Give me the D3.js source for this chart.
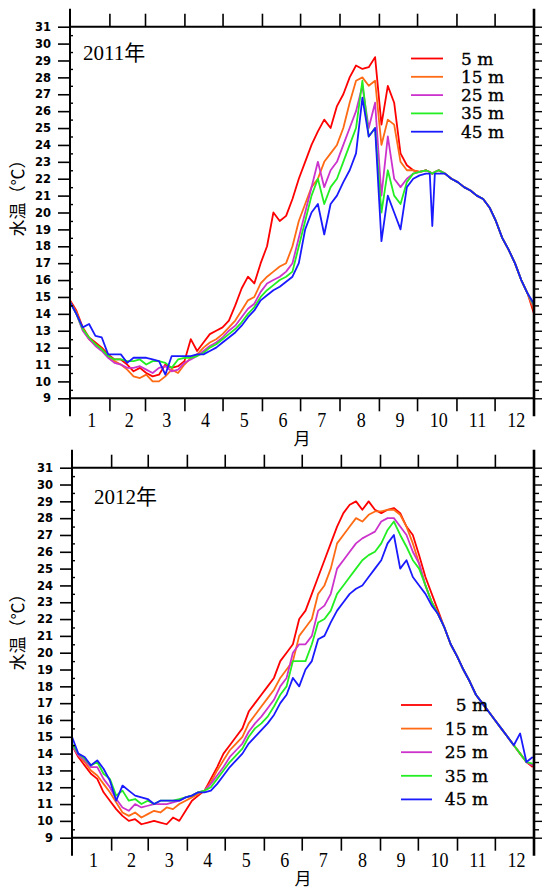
<!DOCTYPE html>
<html>
<head>
<meta charset="utf-8">
<script src="https://cdn.jsdelivr.net/npm/d3@7"></script>
<style>
  body { margin: 0; background: #fff; }
  svg { display: block; }
</style>
</head>
<body>
<script>
var depths = ['5 m', '15 m', '25 m', '35 m', '45 m'];
var colors = ['#ff0000', '#ff6a14', '#cc33cc', '#22ee22', '#1a1aff'];
var monthLabels = ['1', '2', '3', '4', '5', '6', '7', '8', '9', '10', '11', '12'];
var yTickLabels = [9, 10, 11, 12, 13, 14, 15, 16, 17, 18, 19, 20, 21, 22, 23, 24, 25, 26, 27, 28, 29, 30, 31];

// day of year for each sample (2011 has two extra samples round the early-October dip)
var days2011 = [0, 5, 10, 15, 20, 25, 30, 35, 40, 45, 50, 55, 60, 65, 70, 75, 80, 85, 90, 95,
  100, 105, 110, 115, 120, 125, 130, 135, 140, 145, 150, 155, 160, 165, 170, 175, 180, 185, 190, 195,
  200, 205, 210, 215, 220, 225, 230, 235, 240, 245, 250, 255, 260, 265, 270, 275, 280, 283, 285, 287, 290, 295,
  300, 305, 310, 315, 320, 325, 330, 335, 340, 345, 350, 355, 360, 365];
var days2012 = [0, 5, 10, 15, 20, 25, 30, 35, 40, 45, 50, 55, 60, 65, 70, 75, 80, 85, 90, 95,
  100, 105, 110, 115, 120, 125, 130, 135, 140, 145, 150, 155, 160, 165, 170, 175, 180, 185, 190, 195,
  200, 205, 210, 215, 220, 225, 230, 235, 240, 245, 250, 255, 260, 265, 270, 275, 280, 285, 290, 295,
  300, 305, 310, 315, 320, 325, 330, 335, 340, 345, 350, 355, 360, 365];

var t2011_5m = [14.8, 14.2, 13.2, 12.6, 12.3, 12.0, 11.6, 11.3, 11.3, 11.0, 10.6, 10.8, 10.5, 10.3, 10.4, 11.0, 10.8, 10.9, 11.2, 12.5,
  11.8, 12.3, 12.8, 13.0, 13.2, 13.6, 14.5, 15.5, 16.2, 15.8, 17.0, 18.0, 20.0, 19.5, 19.8, 20.8, 22.0, 23.0, 24.0, 24.8,
  25.5, 25.0, 26.3, 27.0, 28.0, 28.7, 28.5, 28.6, 29.2, 25.2, 27.5, 26.5, 23.5, 22.8, 22.5, 22.4, 22.5, 22.4, 22.3, 22.4, 22.5, 22.3,
  22.0, 21.8, 21.5, 21.3, 21.0, 20.8, 20.3, 19.5, 18.5, 17.8, 17.0, 16.0, 15.2, 14.0];
var t2011_15m = [14.7, 14.1, 13.1, 12.5, 12.2, 11.9, 11.5, 11.2, 11.0, 10.7, 10.3, 10.2, 10.4, 10.0, 10.0, 10.3, 10.7, 10.5, 11.0, 11.4,
  11.6, 12.0, 12.3, 12.5, 12.8, 13.2, 13.6, 14.2, 14.8, 15.0, 15.8, 16.2, 16.5, 16.8, 17.0, 18.0, 19.5, 20.5, 21.5, 22.0,
  23.0, 23.5, 24.0, 25.0, 26.5, 27.8, 28.0, 27.5, 27.8, 24.0, 25.5, 25.2, 23.0, 22.5, 22.5, 22.4, 22.5, 22.4, 22.3, 22.4, 22.5, 22.3,
  22.0, 21.8, 21.5, 21.3, 21.0, 20.8, 20.3, 19.5, 18.5, 17.8, 17.0, 16.0, 15.2, 14.2];
var t2011_25m = [14.7, 14.0, 13.0, 12.5, 12.1, 11.8, 11.4, 11.1, 11.0, 10.8, 10.8, 10.9, 10.7, 10.5, 10.8, 10.9, 10.6, 10.7, 11.1, 11.3,
  11.5, 11.8, 12.1, 12.3, 12.6, 13.0, 13.3, 13.8, 14.3, 14.6, 15.3, 15.8, 16.0, 16.2, 16.5, 17.0, 18.5, 20.0, 21.5, 23.0,
  21.5, 22.5, 23.0, 24.0, 25.0, 26.0, 27.5, 25.0, 26.5, 21.0, 24.5, 22.0, 21.5, 22.0, 22.3, 22.4, 22.5, 22.4, 22.3, 22.4, 22.5, 22.3,
  22.0, 21.8, 21.5, 21.3, 21.0, 20.8, 20.3, 19.5, 18.5, 17.8, 17.0, 16.0, 15.2, 14.4];
var t2011_35m = [14.7, 14.0, 13.1, 12.6, 12.2, 11.9, 11.5, 11.3, 11.3, 11.2, 11.2, 11.3, 11.0, 11.2, 11.2, 11.1, 10.8, 11.3, 11.4, 11.4,
  11.5, 11.7, 12.0, 12.2, 12.5, 12.8, 13.1, 13.5, 14.0, 14.4, 15.0, 15.4, 15.7, 16.0, 16.2, 16.5, 18.0, 19.5, 21.0, 22.0,
  20.5, 21.5, 22.0, 23.0, 24.0, 25.0, 27.8, 24.5, 25.0, 20.0, 22.5, 21.0, 20.5, 21.8, 22.3, 22.4, 22.5, 22.4, 22.3, 22.4, 22.5, 22.3,
  22.0, 21.8, 21.5, 21.3, 21.0, 20.8, 20.3, 19.5, 18.5, 17.8, 17.0, 16.0, 15.2, 14.5];
var t2011_45m = [14.7, 14.0, 13.2, 13.4, 12.7, 12.6, 11.6, 11.6, 11.6, 11.1, 11.4, 11.4, 11.4, 11.3, 11.2, 10.4, 11.5, 11.5, 11.5, 11.5,
  11.6, 11.6, 11.8, 12.0, 12.3, 12.6, 12.9, 13.3, 13.8, 14.2, 14.8, 15.1, 15.4, 15.6, 15.9, 16.2, 17.0, 19.0, 20.0, 20.5,
  18.7, 20.5, 21.0, 21.8, 22.5, 23.5, 26.8, 24.5, 25.0, 18.3, 21.0, 20.0, 19.0, 21.5, 22.0, 22.2, 22.3, 22.3, 19.2, 22.3, 22.3, 22.3,
  22.0, 21.8, 21.5, 21.3, 21.0, 20.8, 20.3, 19.5, 18.5, 17.8, 17.0, 16.0, 15.2, 14.6];

var t2012_5m = [14.5, 13.8, 13.3, 12.8, 12.5, 11.7, 11.2, 10.7, 10.3, 10.0, 10.1, 9.8, 9.9, 10.0, 9.9, 9.8, 10.2, 10.0, 10.6, 11.2,
  11.5, 11.8, 12.5, 13.2, 14.0, 14.5, 15.0, 15.5, 16.5, 17.0, 17.5, 18.0, 18.5, 19.5, 20.0, 20.5, 22.0, 22.5, 23.5, 24.5,
  25.5, 26.5, 27.5, 28.3, 28.8, 29.0, 28.5, 29.0, 28.5, 28.3, 28.5, 28.6, 28.3, 27.5, 27.0, 25.8, 24.5, 23.5, 22.5, 21.5,
  20.5, 19.8, 19.0, 18.3, 17.5, 17.0, 16.5, 16.0, 15.5, 15.0, 14.5, 14.0, 13.5, 13.2];
var t2012_15m = [14.5, 13.9, 13.5, 13.0, 12.7, 12.2, 11.7, 11.1, 10.5, 10.3, 10.5, 10.2, 10.4, 10.6, 10.5, 10.8, 10.7, 11.0, 11.2, 11.4,
  11.6, 11.8, 12.3, 13.0, 13.6, 14.2, 14.6, 15.0, 15.8, 16.3, 16.8, 17.3, 17.8, 18.5, 19.0, 19.5, 21.0, 21.5, 22.0, 23.5,
  24.0, 25.0, 26.5, 27.0, 27.5, 28.0, 27.8, 28.2, 28.4, 28.4, 28.5, 28.5, 28.2, 27.5, 26.5, 25.3, 24.0, 23.0, 22.3, 21.5,
  20.5, 19.8, 19.0, 18.3, 17.5, 17.0, 16.5, 16.0, 15.5, 15.0, 14.5, 14.0, 13.5, 13.3];
var t2012_25m = [14.5, 13.9, 13.6, 13.2, 13.2, 12.5, 12.0, 11.3, 10.8, 10.6, 11.0, 10.8, 10.9, 11.0, 11.0, 11.0, 11.1, 11.2, 11.4, 11.5,
  11.7, 11.8, 12.2, 12.7, 13.2, 13.8, 14.2, 14.6, 15.3, 15.8, 16.2, 16.7, 17.2, 18.0, 18.5, 20.0, 20.5, 20.5, 21.0, 22.5,
  22.8, 23.5, 25.0, 25.5, 26.0, 26.5, 26.8, 27.0, 27.2, 27.8, 28.0, 28.0, 27.5, 27.0, 26.0, 25.3, 24.0, 23.0, 22.3, 21.5,
  20.5, 19.8, 19.0, 18.3, 17.5, 17.0, 16.5, 16.0, 15.5, 15.0, 14.5, 14.0, 13.5, 13.3];
var t2012_35m = [14.6, 14.0, 13.7, 13.3, 13.5, 12.8, 12.5, 11.5, 11.8, 11.2, 11.3, 11.0, 11.2, 11.0, 11.2, 11.2, 11.2, 11.3, 11.4, 11.5,
  11.7, 11.8, 12.0, 12.5, 13.0, 13.5, 13.9, 14.3, 15.0, 15.5, 15.8, 16.2, 16.8, 17.5, 18.0, 19.5, 19.5, 19.5, 20.5, 21.8,
  22.0, 22.5, 23.5, 24.0, 24.5, 25.0, 25.5, 25.8, 26.0, 26.5, 27.3, 27.8, 27.0, 26.3, 25.5, 25.0, 24.0, 23.0, 22.3, 21.5,
  20.5, 19.8, 19.0, 18.3, 17.5, 17.0, 16.5, 16.0, 15.5, 15.0, 14.5, 14.0, 13.5, 13.4];
var t2012_45m = [15.0, 14.0, 13.8, 13.3, 13.6, 13.1, 12.4, 11.2, 12.1, 11.8, 11.5, 11.4, 11.3, 11.0, 11.2, 11.2, 11.2, 11.2, 11.4, 11.5,
  11.7, 11.7, 11.8, 12.2, 12.7, 13.2, 13.6, 14.0, 14.6, 15.0, 15.4, 15.8, 16.3, 17.0, 17.5, 18.5, 18.0, 19.0, 19.5, 20.8,
  21.0, 21.8, 22.5, 23.0, 23.5, 23.8, 24.0, 24.5, 25.0, 25.5, 26.5, 27.0, 25.0, 25.5, 24.5, 24.0, 23.5, 22.8, 22.3, 21.5,
  20.5, 19.8, 19.0, 18.3, 17.5, 17.0, 16.5, 16.0, 15.5, 15.0, 14.5, 15.2, 13.5, 13.8];

var W = 542, H = 892;
var svg = d3.select('body').append('svg')
  .attr('width', W)
  .attr('height', H);

var panels = [
  {year: 2011, left: 70, right: 534, top: 26.7, bottom: 398.3, days: days2011,
    series: [t2011_5m, t2011_15m, t2011_25m, t2011_35m, t2011_45m],
    titleX: 83, titleY: 60, ylabY: 194,
    legend: {x0: 411, x1: 443, tx: 461, y0: 58.5, dy: 18.3, anchor: 'start'}},
  {year: 2012, left: 72, right: 534, top: 467.7, bottom: 837.7, days: days2012,
    series: [t2012_5m, t2012_15m, t2012_25m, t2012_35m, t2012_45m],
    titleX: 94, titleY: 504, ylabY: 628,
    legend: {x0: 401, x1: 432, tx: 488, y0: 705, dy: 23.6, anchor: 'end'}}
];

panels.forEach(drawPanel);

function drawPanel(p){
  var start = Date.UTC(p.year, 0, 1),
      end = Date.UTC(p.year + 1, 0, 1);
  var x = d3.scaleUtc().domain([start, end]).range([p.left, p.right]);
  var y = d3.scaleLinear().domain([9, 31]).range([p.bottom, p.top]);
  var months = d3.utcMonth.range(new Date(start), new Date(end));
  var inner = months.slice(1);

  var g = svg.append('g');

  // curves, shallow first so deep water is drawn on top
  var line = d3.line()
    .x(function(d){ return x(start + d[0] * 864e5); })
    .y(function(d){ return y(d[1]); });
  p.series.forEach(function(vals, i){
    var pts = p.days.map(function(d, k){ return [d, vals[k]]; });
    g.append('path')
      .datum(pts)
      .attr('d', line)
      .attr('fill', 'none')
      .attr('stroke', colors[i])
      .attr('stroke-width', 1.8)
      .attr('stroke-linejoin', 'round');
  });

  // month ticks, bottom and top
  var bx = g.append('g')
    .attr('transform', 'translate(0,' + p.bottom + ')')
    .call(d3.axisBottom(x).tickValues(inner).tickSize(13).tickFormat(''));
  var tx = g.append('g')
    .attr('transform', 'translate(0,' + p.top + ')')
    .call(d3.axisTop(x).tickValues(inner).tickSize(13).tickFormat(''));
  [bx, tx].forEach(function(a){
    a.select('.domain').remove();
    a.selectAll('line').attr('stroke', '#000').attr('stroke-width', 1.6);
  });

  // month labels at mid-month, a bit narrow like the original font
  g.selectAll('text.mlab')
    .data(months)
    .enter().append('text')
    .attr('class', 'mlab')
    .attr('transform', function(m){
      var cx = (x(m) + x(d3.utcMonth.offset(m, 1))) / 2 + 2;
      return 'translate(' + cx + ',' + (p.bottom + 29) + ') scale(0.86,1)';
    })
    .attr('text-anchor', 'middle')
    .attr('font-family', 'Liberation Serif, serif')
    .attr('font-size', 21)
    .text(function(m, i){ return monthLabels[i]; });

  g.append('text')
    .attr('x', (p.left + p.right) / 2)
    .attr('y', p.bottom + 47)
    .attr('text-anchor', 'middle')
    .attr('font-family', 'Noto Sans CJK SC')
    .attr('font-size', 17)
    .text('月');

  // left axis: major ticks out, labels bold
  var ly = g.append('g')
    .attr('transform', 'translate(' + p.left + ',0)')
    .call(d3.axisLeft(y).tickValues(yTickLabels).tickSize(12).tickPadding(7));
  ly.select('.domain').remove();
  ly.selectAll('line').attr('stroke-width', 1.6);
  ly.selectAll('text')
    .attr('font-family', 'DejaVu Sans, sans-serif')
    .attr('font-weight', 'bold')
    .attr('font-size', 11.5)
    .attr('fill', '#000');

  var halves = yTickLabels.slice(1).map(function(v){ return v - 0.5; });
  var lm = g.append('g')
    .attr('transform', 'translate(' + p.left + ',0)')
    .call(d3.axisRight(y).tickValues(halves).tickSize(3).tickFormat(''));
  lm.select('.domain').remove();
  lm.selectAll('line').attr('stroke-width', 1.4);

  // right axis: ticks out, no labels
  var ry = g.append('g')
    .attr('transform', 'translate(' + p.right + ',0)')
    .call(d3.axisRight(y).tickValues(yTickLabels).tickSize(8).tickFormat(''));
  ry.select('.domain').remove();
  ry.selectAll('line').attr('stroke-width', 1.4);
  var rm = g.append('g')
    .attr('transform', 'translate(' + p.right + ',0)')
    .call(d3.axisRight(y).tickValues(halves).tickSize(5).tickFormat(''));
  rm.select('.domain').remove();
  rm.selectAll('line').attr('stroke-width', 1.4);

  // frame
  g.append('line').attr('x1', p.left).attr('x2', p.right).attr('y1', p.top).attr('y2', p.top)
    .attr('stroke', '#000').attr('stroke-width', 2);
  g.append('line').attr('x1', p.left).attr('x2', p.right).attr('y1', p.bottom).attr('y2', p.bottom)
    .attr('stroke', '#000').attr('stroke-width', 2);
  g.append('line').attr('x1', p.left).attr('x2', p.left).attr('y1', p.top - 18).attr('y2', p.bottom + 18)
    .attr('stroke', '#000').attr('stroke-width', 2);
  g.append('line').attr('x1', p.right).attr('x2', p.right).attr('y1', p.top - 18).attr('y2', p.bottom + 18)
    .attr('stroke', '#000').attr('stroke-width', 2.6);

  // y title
  g.append('text')
    .attr('transform', 'translate(24,' + p.ylabY + ') rotate(-90)')
    .attr('text-anchor', 'middle')
    .attr('font-family', 'Noto Sans CJK SC')
    .attr('font-size', 17)
    .text('水温（℃）');

  // year title
  g.append('text')
    .attr('x', p.titleX)
    .attr('y', p.titleY)
    .attr('font-family', 'Liberation Serif, Noto Sans CJK SC, serif')
    .attr('font-size', 21)
    .text(p.year + '年');

  // legend
  var lg = p.legend;
  depths.forEach(function(name, i){
    var yy = lg.y0 + i * lg.dy;
    g.append('line')
      .attr('x1', lg.x0).attr('x2', lg.x1).attr('y1', yy).attr('y2', yy)
      .attr('stroke', colors[i]).attr('stroke-width', 1.8);
    g.append('text')
      .attr('x', lg.tx).attr('y', yy + 6)
      .attr('text-anchor', lg.anchor)
      .attr('font-family', 'DejaVu Serif, serif')
      .attr('font-size', 17)
      .attr('stroke', '#000')
      .attr('stroke-width', 0.35)
      .text(name);
  });
}
</script>
</body>
</html>
